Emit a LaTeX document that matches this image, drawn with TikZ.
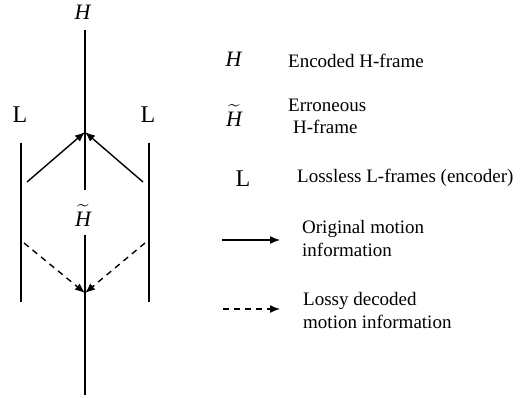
\documentclass[tikz,border=0pt]{standalone}
\usepackage{amsmath}
\usepackage{fontspec}
\setmainfont{Liberation Serif}
\usetikzlibrary{arrows.meta}

% italic H under a wide tilde, with a little air between them
\newcommand{\Htilde}{$\widetilde{\textit{H}\rule{0pt}{16.5pt}}$}

\begin{document}
\begin{tikzpicture}[x=1pt,y=-1pt,
  lbl/.style={inner sep=0pt, anchor=base, font=\fontsize{22}{26}\selectfont},
  lblL/.style={lbl, font=\fontsize{24}{28}\selectfont},
  txt/.style={inner sep=0pt, anchor=base west, align=left,
              font=\fontsize{19}{23}\selectfont},
  frame/.style={line width=1.4pt},
  orig/.style={line width=1.4pt, -{Latex[length=10pt,width=8pt]}},
  lossy/.style={orig, dash pattern=on 6pt off 5pt}]
\useasboundingbox (0,0) rectangle (525,398);

% ---- frame structure ----
\node[lbl] (Htop) at (83,20) {\textit{H}};
\node[lblL] (Lleft) at (20,123) {L};
\node[lblL] (Lright) at (148,123) {L};
\node[lbl] (Htil) at (83,227) {\Htilde};

\coordinate (hTop) at (85,30);
\coordinate (hBot) at (85,190);
\coordinate (tTop) at (85,235);
\coordinate (tBot) at (85,395);
\coordinate (lTop) at (21,143);
\coordinate (lBot) at (21,302);
\coordinate (rTop) at (149,143);
\coordinate (rBot) at (149,302);

\draw[frame] (hTop) -- (hBot);
\draw[frame] (tTop) -- (tBot);
\draw[frame] (lTop) -- (lBot);
\draw[frame] (rTop) -- (rBot);

% motion vectors
\coordinate (encTip) at (85,132);
\coordinate (encL) at (27,182);
\coordinate (encR) at (143,182);
\coordinate (decTip) at (85,293);
\coordinate (decL) at (24,243);
\coordinate (decR) at (145,243);

\draw[orig] (encL) -- (encTip);
\draw[orig] (encR) -- (encTip);
\draw[lossy] (decL) -- (decTip);
\draw[lossy] (decR) -- (decTip);

% ---- legend ----
\node[lbl] (kH) at (234,67) {\textit{H}};
\node[txt] (tH) at (288,68) {Encoded H-frame};
\node[lbl] (kHt) at (234,127) {\Htilde};
\node[txt] (tHt1) at (288,112) {Erroneous};
\node[txt] (tHt2) at (293,134) {H-frame};
\node[lblL] (kL) at (243,187) {L};
\node[txt] (tL) at (297,183) {Lossless L-frames (encoder)};

\coordinate (kOa) at (222,240);
\coordinate (kOb) at (280,240);
\draw[orig] (kOa) -- (kOb);
\node[txt] (tO) at (302,257) {Original motion\\information};

\coordinate (kDa) at (223,309);
\coordinate (kDb) at (280,309);
\draw[lossy] (kDa) -- (kDb);
\node[txt] (tD) at (303,328) {Lossy decoded\\motion information};
\end{tikzpicture}
\end{document}
